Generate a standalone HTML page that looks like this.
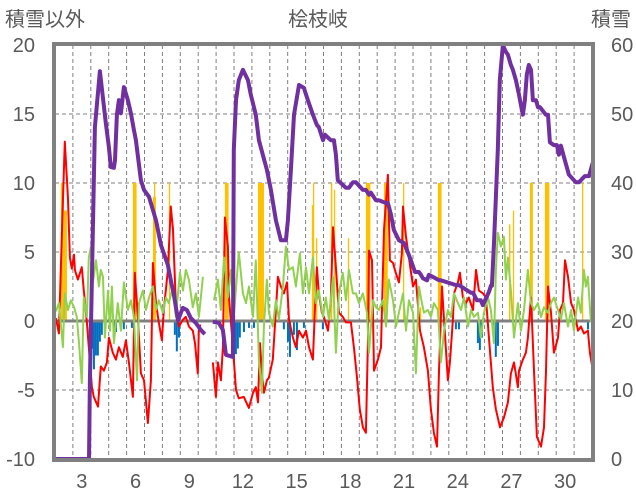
<!DOCTYPE html>
<html><head><meta charset="utf-8">
<style>
body{margin:0;background:#fff;}
svg{display:block;font-family:"Liberation Sans","Noto Sans CJK JP",sans-serif;}
</style></head>
<body>
<svg id="chart" width="636" height="501" viewBox="0 0 636 501" xmlns="http://www.w3.org/2000/svg">
<text x="5" y="26" font-size="20" fill="#595959">積雪以外</text>
<text x="318" y="26" font-size="20" fill="#595959" text-anchor="middle">桧枝岐</text>
<text x="631" y="26" font-size="20" fill="#595959" text-anchor="end">積雪</text>
<g id="grid"></g>
<g id="bars"></g>
<g id="lines"></g>
<g id="axes"></g>
</svg>
<script>
const xTicks=[3,6,9,12,15,18,21,24,27,30];
const leftTicks=[-10,-5,0,5,10,15,20];
const rightTicks=[0,10,20,30,40,50,60];

const snowT=[1.55,3.40,3.45,3.73,4.01,4.34,4.51,4.62,4.79,4.85,4.96,5.07,5.18,5.35,5.57,5.74,5.91,6.02,6.30,6.47,6.75,6.97,7.14,7.42,7.81,7.97,8.14,8.37,8.64,8.87,9.09,9.37,9.65,9.87,null,10.32,10.66,10.88,11.05,11.44,11.49,11.61,11.77,12.00,12.28,12.44,12.72,12.89,13.11,13.34,13.56,13.84,14.12,14.40,14.51,14.68,14.85,15.13,15.40,15.63,15.91,16.13,16.24,16.47,16.58,16.91,17.08,17.19,17.30,17.75,17.92,18.14,18.31,18.70,18.87,19.04,19.15,19.43,19.59,19.99,20.10,20.27,20.43,20.71,20.99,21.16,21.38,21.61,21.83,21.94,22.05,22.28,22.39,22.95,23.06,23.90,24.06,24.73,24.85,25.07,25.29,25.40,25.74,25.85,25.91,26.02,26.13,26.24,26.35,26.52,26.69,26.80,26.97,27.08,27.25,27.42,27.53,27.64,27.75,27.86,27.97,28.09,28.20,28.37,28.48,28.59,28.92,29.04,29.15,29.37,29.54,29.65,29.76,29.93,30.21,30.60,30.77,31.10,31.33,31.55];
const snowV=[0,0,11.4,48.1,56.2,48.7,45.2,42.3,42.2,43.3,49.9,52,50.1,53.9,52,50.1,47.7,46.2,40.4,39,38,36.1,34.6,31,28.1,25.9,23.8,20.1,21.9,21.6,20.4,19.7,18.7,18.1,null,19.9,19.7,18.7,15.1,14.8,44.8,52,54.9,56.4,54.9,52.8,49.9,46.2,44.1,41.9,39,34.6,31.7,31.7,34.6,41.9,49.9,54.2,53.8,52,49.9,48.4,48.1,46.2,47,46.2,46.2,44.1,40.4,39.3,39.3,40.1,40.1,39,39,38.3,38.6,37.5,37.5,37.1,37.1,35.4,33.2,31.7,31.3,30.3,28.8,27.1,27.1,26.7,26.2,25.9,26.7,25.9,25.9,25.2,25.2,24.1,24.1,23,23,22.3,24.2,25.1,25.1,31,38,44.8,54.9,60,59,58.6,57.1,56.4,54.9,52.8,51.3,49.9,52,55.7,57.1,56.4,52,52,51,51,49.9,49.9,45.9,45.5,45.5,44.1,45.4,43.8,41.2,40.1,40.1,41,41,43,43];

const tempT=[1.55,1.72,1.89,2.05,2.22,2.33,2.44,2.56,2.61,2.78,3.00,3.11,3.28,3.39,3.56,3.67,3.90,4.06,4.23,4.40,4.51,4.73,4.90,5.07,5.29,5.46,5.63,5.85,5.96,6.13,6.30,6.47,6.69,6.86,6.97,7.14,7.30,7.47,7.58,7.81,7.97,8.09,8.25,8.42,8.65,8.81,8.98,9.20,9.32,9.48,9.54,9.65,null,10.32,10.49,10.60,10.77,10.88,10.99,11.16,11.22,11.44,11.61,11.77,12.05,12.33,12.56,12.72,12.84,12.95,13.06,13.17,13.34,13.45,13.67,13.84,13.95,14.12,14.29,14.46,14.57,14.79,14.96,15.13,15.35,15.52,15.69,15.91,16.02,16.13,16.24,16.41,16.52,16.75,16.91,17.03,17.19,17.36,17.58,17.75,18.03,18.20,18.37,18.53,18.70,18.87,18.98,19.04,19.21,19.32,19.54,19.71,19.88,20.10,20.21,20.38,20.49,20.71,20.88,20.94,21.11,21.27,21.50,21.66,21.89,22.11,22.33,22.50,22.67,22.84,22.95,23.12,23.23,23.45,23.56,23.73,23.79,24.01,24.12,24.29,24.46,24.62,24.85,25.02,25.18,25.41,25.57,25.74,25.96,26.13,26.36,26.58,26.80,26.97,27.14,27.36,27.42,27.64,27.81,27.92,28.09,28.26,28.42,28.65,28.82,28.93,29.04,29.21,29.37,29.60,29.71,29.88,29.99,30.16,30.33,30.49,30.72,30.88,31.05,31.27,31.38,31.55];
const tempV=[0.2,-0.9,6.6,13.0,9.0,4.6,3.8,4.8,3.7,3.0,3.9,2.2,-0.1,-1.9,-4.8,-5.5,-6.2,-3.3,-3.6,-3.0,-1.2,-2.3,-2.8,-1.9,-2.6,-1.4,-3.0,-5.5,3.5,0.3,-3.8,-4.3,-7.4,-4.3,4.2,1.3,-0.1,-1.4,0.8,3.7,8.3,6.6,1.3,-0.4,0.1,0.3,-0.4,-0.7,-1.6,-3.8,-0.4,-0.3,null,-3.0,-5.5,-3.0,-4.3,-1.9,7.5,5.4,1.7,-1.9,-5.0,-5.6,-5.5,-6.3,-5.2,-4.8,-5.9,-1.6,-3.8,-5.2,-4.3,-4.1,-2.8,0.8,3.2,2.5,2.0,2.8,0.1,-1.2,-1.9,-0.7,-1.2,-0.7,-1.9,-2.8,0.8,3.9,2.0,0.6,0.3,-0.7,1.5,6.8,3.9,0.6,0.3,-0.1,-0.1,-1.9,-4.1,-6.4,-7.7,-8.1,-1.6,5.1,4.4,-3.6,-2.8,-1.9,6.6,10.6,4.4,4.2,3.7,2.8,4.9,8.3,6.1,4.6,2.5,3.0,-0.7,-1.9,-3.6,-6.4,-8.1,-9.1,-3.6,2.5,0.1,-4.3,-3.0,0.1,2.0,2.8,3.5,1.7,1.3,1.7,0.8,3.7,2.2,2.0,1.7,-1.2,-4.8,-6.4,-7.7,-7.0,-5.9,-3.8,-3.0,-4.8,-3.6,-2.8,-2.3,-1.2,1.7,-3.6,-8.4,-9.1,-7.7,-3.6,2.5,0.6,-2.3,-1.2,0.8,1.3,4.4,3.2,1.3,0.8,-0.7,-0.4,-0.9,-0.7,-2.3,-3.6];

const windT=[1.55,1.72,1.94,2.05,2.22,2.39,2.56,2.72,2.84,3.00,3.11,3.28,3.39,3.51,3.62,3.79,3.95,4.06,4.18,4.29,4.46,4.57,4.68,4.79,5.01,5.18,5.35,5.57,5.74,5.91,6.08,6.19,6.41,6.58,6.75,6.97,7.14,7.30,7.53,7.70,7.86,8.09,8.25,8.48,8.65,8.81,8.98,9.20,9.37,9.54,9.76,null,10.38,10.60,10.77,10.94,11.16,11.33,11.49,11.77,12.00,12.17,12.33,12.56,12.72,12.89,13.06,13.17,13.34,13.45,13.67,13.84,14.01,14.23,14.40,14.57,14.79,14.96,15.18,15.35,15.52,15.69,15.91,16.08,16.24,16.47,16.63,16.80,17.03,17.19,17.36,17.58,17.75,17.92,18.14,18.31,18.48,18.70,18.93,19.04,19.26,19.43,19.60,19.82,19.99,20.15,20.38,20.55,20.71,20.94,21.11,21.27,21.50,21.66,21.83,21.94,22.11,22.33,22.50,22.67,22.89,23.06,23.23,23.45,23.62,23.79,24.01,24.18,24.35,24.57,24.74,24.90,25.13,25.29,25.46,25.69,25.85,26.02,26.13,26.24,26.41,26.58,26.69,26.80,26.97,27.14,27.36,27.53,27.70,27.92,28.09,28.26,28.48,28.65,28.82,29.04,29.21,29.37,29.60,29.76,29.93,30.16,30.33,30.49,30.72,30.88,31.05,31.16,31.27,31.44];
const windV=[0.7,1.3,-1.9,2.0,0.8,1.5,1.0,0.3,-1.6,-4.5,1.7,0.3,4.6,5.4,2.8,4.4,2.5,3.7,3.2,-1.2,2.2,-0.7,2.5,-1.6,1.3,-0.7,2.8,0.8,1.5,0.3,-4.3,1.3,2.2,0.8,1.7,2.5,0.8,1.5,0.6,1.7,1.3,2.5,0.3,3.5,2.2,3.7,3.0,1.0,2.0,0.3,3.2,null,1.5,3.0,0.8,4.6,1.7,3.7,0.3,5.0,2.0,1.3,2.5,0.3,4.4,-2.8,-5.2,-0.4,3.0,0.6,-0.4,1.5,0.1,2.5,5.4,3.7,3.9,2.5,4.9,2.0,3.9,2.0,4.6,1.3,2.2,0.3,1.7,0.1,3.2,-2.3,2.0,3.5,1.5,3.7,2.0,2.0,1.3,2.0,0.6,-2.3,1.5,1.0,0.8,1.5,-0.4,3.0,1.5,-0.4,0.6,2.0,-0.7,1.5,0.6,-3.8,2.5,1.7,0.6,0.8,0.3,1.3,0.8,-3.0,-0.7,0.8,0.3,2.0,1.3,0.8,1.7,-0.4,0.8,0.3,0.6,-1.2,0.6,1.7,0.8,-1.6,3.7,6.4,5.4,6.1,3.0,4.6,2.2,-1.2,1.3,-0.7,0.8,3.7,1.3,0.8,1.3,0.3,1.0,0.6,1.3,1.7,0.8,0.1,1.3,-0.4,0.8,-0.7,1.7,0.6,3.7,2.5,3.2,-0.1];

const precipT=[1.83,2.00,5.85,6.97,7.03,7.86,10.99,12.84,15.85,15.91,16.08,16.91,17.08,17.86,18.87,19.88,20.94,21.89,22.89,26.86,27.08,28.03,28.87,30.94];
const precipV=[10,8,10,9,10,10,10,10,8.4,10,6,10,9.5,6,10,10,10,1,10,7,8,10,10,10];
const precipHours=[4,4,5,4,1,1,5,8,2,1,1,2,1,1,6,5,1,1,5,2,1,4,6,1];

const dropT=[3.39,3.51,3.62,3.73,3.84,3.95,4.06,4.73,4.85,5.29,5.74,8.14,8.25,8.37,11.44,11.55,11.66,11.77,12.00,12.28,12.56,14.23,14.46,14.57,14.79,14.96,15.35,16.41,23.84,24.01,25.07,25.18,25.29,25.96,26.07,26.19,31.22];
const dropV=[-1.0,-2.0,-3.5,-2.5,-2.5,-1.5,-1.0,-1.2,-0.8,-0.6,-0.5,-1.0,-2.2,-1.2,-3.0,-2.4,-2.0,-1.2,-0.8,-0.5,-0.5,-0.6,-1.5,-2.6,-1.0,-2.1,-0.5,-0.6,-0.6,-0.6,-1.6,-2.1,-1.2,-1.5,-2.6,-1.8,-0.6];

const NS='http://www.w3.org/2000/svg';
const L=55,R=592,T=45,B=459;
const tMin=1.5,tMax=31.5;
const xS=t=>L+(t-tMin)/(tMax-tMin)*(R-L);
const yL=v=>B-(v+10)/30*(B-T);
const yR=v=>B-v/60*(B-T);
function mk(tag,attrs,parent){const e=document.createElementNS(NS,tag);for(const k in attrs)e.setAttribute(k,attrs[k]);parent.appendChild(e);return e;}
const grid=document.getElementById('grid'),bars=document.getElementById('bars'),lines=document.getElementById('lines'),axes=document.getElementById('axes');

for(let d=2;d<=31;d++){
  const x=xS(d+0.5);
  if(x>=R-1)continue;
  const g=mk('line',{x1:x,x2:x,y1:T,y2:B,stroke:'#7f7f7f','stroke-width':1,'stroke-dasharray':'4,3'},grid);
  
  
}
leftTicks.forEach(v=>{
  if(v===0||v===-10||v===20)return;
  const y=yL(v);
  const g=mk('line',{x1:L,x2:R,y1:y,y2:y,stroke:'#7f7f7f','stroke-width':1,'stroke-dasharray':'4,3'},grid);
  
  
});

precipT.forEach((t,i)=>{
  const x=xS(t),w=Math.max(1.3,precipHours[i]/24*(R-L)/(tMax-tMin));
  const y=yL(precipV[i]);
  const r=mk('rect',{x:x,y:y,width:w,height:yL(0)-y,fill:'#FFC000'},bars);
  
  
});
dropT.forEach((t,i)=>{
  const x=xS(t);
  const r=mk('rect',{x:x,y:yL(0),width:2,height:yL(dropV[i])-yL(0),fill:'#0070C0'},bars);
  
  
});
const zl=mk('line',{x1:L,x2:R,y1:yL(0),y2:yL(0),stroke:'#808080','stroke-width':3},bars);



function pathFor(ts,vs,yf){
  let d='',pen=false;
  for(let i=0;i<ts.length;i++){
    if(ts[i]===null||vs[i]===null){pen=false;continue;}
    d+=(pen?'L':'M')+xS(ts[i]).toFixed(1)+','+yf(vs[i]).toFixed(1);pen=true;
  }
  return d;
}
const pTemp=mk('path',{d:pathFor(tempT,tempV,yL),fill:'none',stroke:'#FF0000','stroke-width':2,'stroke-linejoin':'round'},lines);


const pWind=mk('path',{d:pathFor(windT,windV,yL),fill:'none',stroke:'#92D050','stroke-width':2,'stroke-linejoin':'round'},lines);


const pSnow=mk('path',{d:pathFor(snowT,snowV,yR),fill:'none',stroke:'#7030A0','stroke-width':4,'stroke-linejoin':'round'},lines);



const frame=mk('rect',{x:L-1,y:T-1,width:R-L+2,height:B-T+2,fill:'none',stroke:'#808080','stroke-width':4},axes);



leftTicks.forEach(v=>{
  const t=mk('text',{x:35,y:yL(v)+7,'font-size':20,fill:'#595959','text-anchor':'end'},axes);
  t.textContent=v;
  
  
});
rightTicks.forEach(v=>{
  const t=mk('text',{x:611,y:yR(v)+7,'font-size':20,fill:'#595959'},axes);
  t.textContent=v;
  
  
});
xTicks.forEach(v=>{
  const t=mk('text',{x:xS(v),y:488,'font-size':20,fill:'#595959','text-anchor':'middle'},axes);
  t.textContent=v;
  
  
});
</script>
</body></html>
